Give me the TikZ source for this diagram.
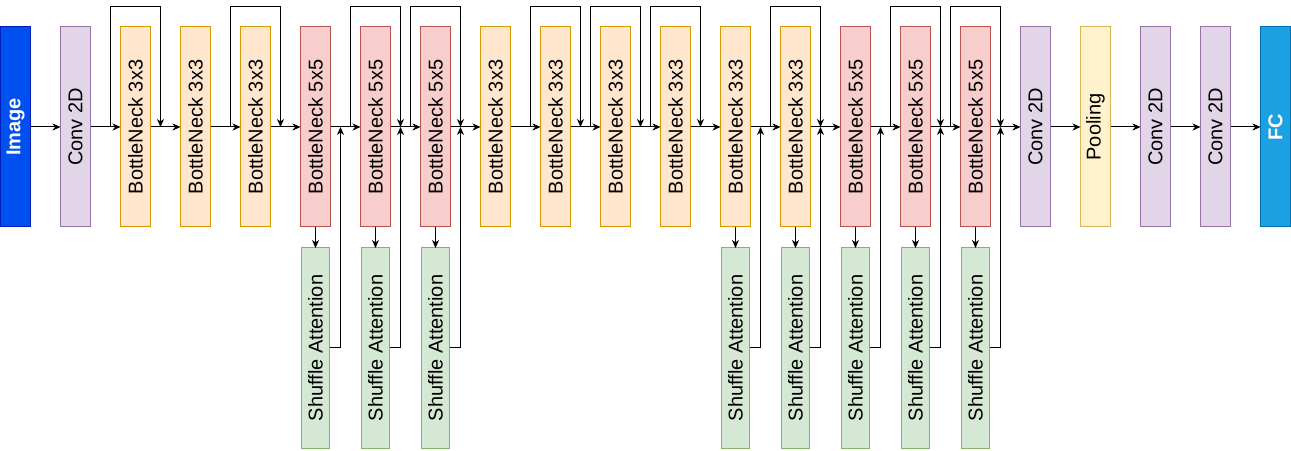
\documentclass[tikz,border=0pt]{standalone}
\usepackage{fontspec}
\setmainfont{Liberation Sans}
\usetikzlibrary{arrows.meta}
\usetikzlibrary{positioning}

\definecolor{imgfill}{HTML}{0050EF}
\definecolor{imgline}{HTML}{001DBC}
\definecolor{fcfill}{HTML}{1BA1E2}
\definecolor{fcline}{HTML}{006EAF}
\definecolor{convfill}{HTML}{E1D5E7}
\definecolor{convline}{HTML}{9673A6}
\definecolor{smallfill}{HTML}{FFE6CC}
\definecolor{smallline}{HTML}{D79B00}
\definecolor{largefill}{HTML}{F8CECC}
\definecolor{largeline}{HTML}{B85450}
\definecolor{attnfill}{HTML}{D5E8D4}
\definecolor{attnline}{HTML}{82B366}
\definecolor{poolfill}{HTML}{FFF2CC}
\definecolor{poolline}{HTML}{D6B656}

\newcommand{\vtext}[1]{\rotatebox{90}{#1}}

\begin{document}
\begin{tikzpicture}[
        x=1pt, y=1pt,
        node distance=30pt,
        line width=1pt,
        >={Stealth[length=8pt,width=7pt,inset=2.5pt]},
        box/.style={draw, minimum width=30pt, minimum height=200pt, inner sep=0pt,
                outer sep=0pt, font=\fontsize{20}{24}\selectfont},
        inbox/.style={box, fill=imgfill, draw=imgline, text=white,
                font=\fontsize{20}{24}\selectfont\bfseries},
        outbox/.style={box, fill=fcfill, draw=fcline, text=white,
                font=\fontsize{20}{24}\selectfont\bfseries},
        convbox/.style={box, fill=convfill, draw=convline},
        poolbox/.style={box, fill=poolfill, draw=poolline},
        smallbox/.style={box, fill=smallfill, draw=smallline},
        largebox/.style={box, fill=largefill, draw=largeline},
        attnbox/.style={box, minimum width=28pt, fill=attnfill, draw=attnline}
    ]
        \useasboundingbox (-0.5,0) rectangle (1290.5,450);

        \node[inbox] (image) at (15,323) {\vtext{Image}};
        \node[convbox, right=of image] (conv-in) {\vtext{Conv 2D}};
        \node[smallbox, right=of conv-in] (bn-1) {\vtext{BottleNeck 3x3}};
        \node[smallbox, right=of bn-1] (bn-2) {\vtext{BottleNeck 3x3}};
        \node[smallbox, right=of bn-2] (bn-3) {\vtext{BottleNeck 3x3}};
        \node[largebox, right=of bn-3] (bn-4) {\vtext{BottleNeck 5x5}};
        \node[largebox, right=of bn-4] (bn-5) {\vtext{BottleNeck 5x5}};
        \node[largebox, right=of bn-5] (bn-6) {\vtext{BottleNeck 5x5}};
        \node[smallbox, right=of bn-6] (bn-7) {\vtext{BottleNeck 3x3}};
        \node[smallbox, right=of bn-7] (bn-8) {\vtext{BottleNeck 3x3}};
        \node[smallbox, right=of bn-8] (bn-9) {\vtext{BottleNeck 3x3}};
        \node[smallbox, right=of bn-9] (bn-10) {\vtext{BottleNeck 3x3}};
        \node[smallbox, right=of bn-10] (bn-11) {\vtext{BottleNeck 3x3}};
        \node[smallbox, right=of bn-11] (bn-12) {\vtext{BottleNeck 3x3}};
        \node[largebox, right=of bn-12] (bn-13) {\vtext{BottleNeck 5x5}};
        \node[largebox, right=of bn-13] (bn-14) {\vtext{BottleNeck 5x5}};
        \node[largebox, right=of bn-14] (bn-15) {\vtext{BottleNeck 5x5}};
        \node[convbox, right=of bn-15] (conv-a) {\vtext{Conv 2D}};
        \node[poolbox, right=of conv-a] (pool) {\vtext{Pooling}};
        \node[convbox, right=of pool] (conv-b) {\vtext{Conv 2D}};
        \node[convbox, right=of conv-b] (conv-c) {\vtext{Conv 2D}};
        \node[outbox, right=of conv-c] (fc) {\vtext{FC}};

        % main path
        \foreach \a/\b in {image/conv-in, conv-in/bn-1, bn-1/bn-2, bn-2/bn-3, bn-3/bn-4,
                bn-4/bn-5, bn-5/bn-6, bn-6/bn-7, bn-7/bn-8, bn-8/bn-9, bn-9/bn-10,
                bn-10/bn-11, bn-11/bn-12, bn-12/bn-13, bn-13/bn-14, bn-14/bn-15,
                bn-15/conv-a, conv-a/pool, pool/conv-b, conv-b/conv-c, conv-c/fc}
            \draw[->] (\a) -- (\b);

        % skip connections over the top
        \foreach \b in {bn-1, bn-3, bn-5, bn-6, bn-8, bn-9, bn-10, bn-12, bn-14, bn-15}
            \draw[->] ([xshift=-10pt]\b.west) |- ([shift={(10pt,20pt)}]\b.north east)
                -- ([xshift=10pt]\b.east);

        % shuffle attention branches
        \foreach \b [count=\i] in {bn-4, bn-5, bn-6, bn-11, bn-12, bn-13, bn-14, bn-15} {
            \node[attnbox, below=21pt of \b] (sa-\i) {\vtext{Shuffle Attention}};
            \draw[->] (\b) -- (sa-\i);
            \draw[->] (sa-\i.east) -| ([xshift=10pt]\b.east);
        }
    \end{tikzpicture}
\end{document}
